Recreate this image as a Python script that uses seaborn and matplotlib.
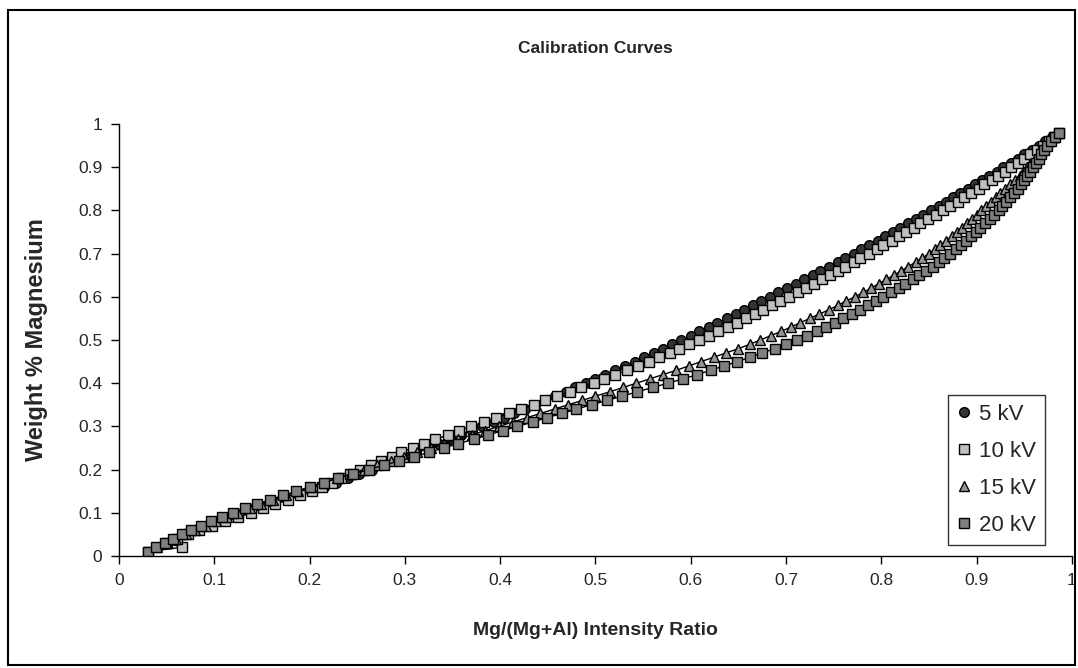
import seaborn as sns
import matplotlib.pyplot as plt
from matplotlib.patches import Rectangle
from matplotlib.lines import Line2D

# Weight fraction of Mg (y) for every plotted point
weight_mg = [
    0.01, 0.02, 0.03, 0.04, 0.05, 0.06, 0.07, 0.08, 0.09, 0.10,
    0.11, 0.12, 0.13, 0.14, 0.15, 0.16, 0.17, 0.18, 0.19, 0.20,
    0.21, 0.22, 0.23, 0.24, 0.25, 0.26, 0.27, 0.28, 0.29, 0.30,
    0.31, 0.32, 0.33, 0.34, 0.35, 0.36, 0.37, 0.38, 0.39, 0.40,
    0.41, 0.42, 0.43, 0.44, 0.45, 0.46, 0.47, 0.48, 0.49, 0.50,
    0.51, 0.52, 0.53, 0.54, 0.55, 0.56, 0.57, 0.58, 0.59, 0.60,
    0.61, 0.62, 0.63, 0.64, 0.65, 0.66, 0.67, 0.68, 0.69, 0.70,
    0.71, 0.72, 0.73, 0.74, 0.75, 0.76, 0.77, 0.78, 0.79, 0.80,
    0.81, 0.82, 0.83, 0.84, 0.85, 0.86, 0.87, 0.88, 0.89, 0.90,
    0.91, 0.92, 0.93, 0.94, 0.95, 0.96, 0.97, 0.98,
]

# Mg/(Mg+Al) intensity ratio (x)
ratio_5kv = [
    0.030, 0.040, 0.050, 0.061, 0.072, 0.084, 0.098, 0.111, 0.125, 0.138,
    0.151, 0.164, 0.177, 0.190, 0.203, 0.215, 0.228, 0.240, 0.252, 0.265,
    0.277, 0.289, 0.301, 0.312, 0.324, 0.336, 0.347, 0.359, 0.370, 0.381,
    0.393, 0.404, 0.415, 0.426, 0.437, 0.447, 0.458, 0.469, 0.479, 0.490,
    0.500, 0.510, 0.521, 0.531, 0.541, 0.551, 0.561, 0.571, 0.580, 0.590,
    0.600, 0.609, 0.619, 0.628, 0.638, 0.647, 0.656, 0.665, 0.674, 0.683,
    0.692, 0.701, 0.710, 0.719, 0.728, 0.736, 0.745, 0.754, 0.762, 0.771,
    0.779, 0.787, 0.796, 0.804, 0.812, 0.820, 0.828, 0.836, 0.844, 0.852,
    0.860, 0.868, 0.875, 0.883, 0.891, 0.898, 0.906, 0.913, 0.921, 0.928,
    0.936, 0.943, 0.950, 0.958, 0.965, 0.972, 0.979, 0.986,
]
ratio_10kv = [
    0.030, 0.066, 0.050, 0.061, 0.072, 0.084, 0.098, 0.111, 0.125, 0.138,
    0.151, 0.164, 0.177, 0.190, 0.203, 0.213, 0.223, 0.233, 0.242, 0.253,
    0.264, 0.275, 0.286, 0.296, 0.308, 0.320, 0.332, 0.345, 0.357, 0.369,
    0.383, 0.396, 0.409, 0.422, 0.435, 0.447, 0.460, 0.473, 0.485, 0.498,
    0.509, 0.521, 0.533, 0.545, 0.556, 0.567, 0.578, 0.588, 0.598, 0.609,
    0.619, 0.629, 0.639, 0.648, 0.658, 0.667, 0.676, 0.685, 0.694, 0.703,
    0.712, 0.721, 0.729, 0.738, 0.746, 0.754, 0.762, 0.771, 0.778, 0.787,
    0.795, 0.802, 0.811, 0.818, 0.826, 0.834, 0.841, 0.849, 0.857, 0.865,
    0.872, 0.880, 0.887, 0.894, 0.902, 0.908, 0.916, 0.922, 0.930, 0.936,
    0.943, 0.950, 0.956, 0.963, 0.970, 0.976, 0.981, 0.986,
]
ratio_15kv = [
    0.030, 0.040, 0.050, 0.060, 0.070, 0.080, 0.091, 0.102, 0.113, 0.125,
    0.137, 0.149, 0.162, 0.175, 0.188, 0.201, 0.215, 0.229, 0.243, 0.257,
    0.271, 0.285, 0.299, 0.313, 0.327, 0.341, 0.356, 0.370, 0.384, 0.399,
    0.413, 0.428, 0.442, 0.457, 0.471, 0.486, 0.500, 0.515, 0.529, 0.543,
    0.557, 0.571, 0.585, 0.598, 0.611, 0.624, 0.637, 0.650, 0.662, 0.673,
    0.684, 0.695, 0.705, 0.715, 0.725, 0.735, 0.745, 0.754, 0.763, 0.772,
    0.781, 0.789, 0.797, 0.805, 0.813, 0.821, 0.828, 0.836, 0.843, 0.850,
    0.856, 0.862, 0.868, 0.874, 0.879, 0.885, 0.890, 0.895, 0.900, 0.905,
    0.910, 0.915, 0.920, 0.925, 0.930, 0.935, 0.940, 0.945, 0.949, 0.953,
    0.957, 0.961, 0.965, 0.969, 0.972, 0.976, 0.981, 0.986,
]
ratio_20kv = [
    0.030, 0.039, 0.048, 0.057, 0.066, 0.076, 0.086, 0.097, 0.108, 0.120,
    0.132, 0.145, 0.158, 0.172, 0.186, 0.200, 0.215, 0.230, 0.246, 0.262,
    0.278, 0.294, 0.310, 0.325, 0.341, 0.356, 0.372, 0.387, 0.403, 0.418,
    0.434, 0.449, 0.465, 0.480, 0.496, 0.512, 0.528, 0.544, 0.560, 0.576,
    0.592, 0.607, 0.621, 0.635, 0.649, 0.662, 0.675, 0.688, 0.700, 0.711,
    0.722, 0.732, 0.742, 0.751, 0.760, 0.769, 0.778, 0.786, 0.794, 0.802,
    0.810, 0.818, 0.825, 0.833, 0.840, 0.847, 0.854, 0.860, 0.866, 0.872,
    0.878, 0.884, 0.889, 0.894, 0.899, 0.904, 0.909, 0.914, 0.918, 0.923,
    0.927, 0.931, 0.935, 0.939, 0.943, 0.946, 0.950, 0.953, 0.956, 0.959,
    0.962, 0.965, 0.968, 0.971, 0.974, 0.978, 0.982, 0.986,
]

series_labels = ["5 kV", "10 kV", "15 kV", "20 kV"]
tick_values = [0, 0.1, 0.2, 0.3, 0.4, 0.5, 0.6, 0.7, 0.8, 0.9, 1]
tick_labels = ["0", "0.1", "0.2", "0.3", "0.4", "0.5", "0.6", "0.7", "0.8", "0.9", "1"]

sns.set_style("ticks")
plt.rcParams["font.family"] = ["Liberation Sans", "DejaVu Sans"]

fig = plt.figure(figsize=(10.78, 6.68), dpi=100)
ax = fig.add_axes([0.1104, 0.1677, 0.8840, 0.6467])

# marker / fill per series, like the Excel original
styles = [("o", "#333333"), ("s", "#c0c0c0"), ("^", "#969696"), ("s", "#808080")]
all_ratios = [ratio_5kv, ratio_10kv, ratio_15kv, ratio_20kv]

for ratios, (mk, fc) in zip(all_ratios, styles):
    sns.lineplot(x=ratios, y=weight_mg, ax=ax, sort=False, estimator=None,
                 color="black", linewidth=1.0, marker=mk, markersize=7,
                 markerfacecolor=fc, markeredgecolor="black",
                 markeredgewidth=1.0, legend=False)

ax.set_xlim(0, 1)
ax.set_ylim(0, 1)
ax.set_xticks(tick_values)
ax.set_xticklabels(tick_labels)
ax.set_yticks(tick_values)
ax.set_yticklabels(tick_labels)
ax.tick_params(axis="both", labelsize=12.5, length=6, width=1, color="black", pad=6)
sns.despine(ax=ax)
for side in ["left", "bottom"]:
    ax.spines[side].set_color("black")
    ax.spines[side].set_linewidth(1)

ax.set_xlabel("Mg/(Mg+Al) Intensity Ratio", fontsize=14, fontweight="bold")
ax.set_ylabel("Weight % Magnesium", fontsize=17, fontweight="bold")
ax.xaxis.set_label_coords(0.5, -0.152)
ax.yaxis.set_label_coords(-0.0745, 0.5)

fig.text(0.552, 0.928, "Calibration Curves", ha="center", va="center",
         fontsize=12.5, fontweight="bold")

handles = [Line2D([], [], linestyle="none", marker=mk, markersize=7,
                  markerfacecolor=fc, markeredgecolor="black")
           for mk, fc in styles]
leg = ax.legend(handles, series_labels, loc="upper left",
                bbox_to_anchor=(0.870, 0.373), fontsize=16, frameon=True,
                fancybox=False, edgecolor="black", labelspacing=0.71,
                handlelength=0.6, handletextpad=0.35, borderpad=0.42,
                borderaxespad=0)
leg.get_frame().set_linewidth(1)

# chart area border
fig.patches.append(Rectangle((0.0074, 0.0045), 0.990, 0.981, transform=fig.transFigure,
                             fill=False, edgecolor="black", linewidth=1.5))

fig.savefig("out.png", dpi=100)
